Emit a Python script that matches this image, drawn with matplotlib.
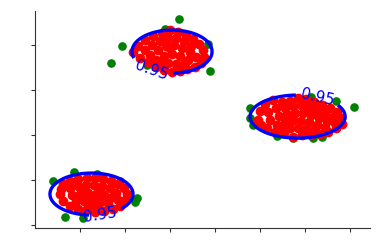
import numpy as np
import matplotlib
matplotlib.use("Agg")
import matplotlib.pyplot as plt

# red points (inliers), one list per cluster
red1_x = [-17, -10, -2, 7, 15, 23, 31, 38, 44, 47, 45, 40, 33, 24, 15, 6, -2, -10, -17, -20, -19,
          -10, -2, 6, 14, 22, 30, 36, -8, 0, 8, 16, 24, 32, 38, -4, 4, 12, 20, 28, 10, 18, 4, 20, 12]
red1_y = [41, 44, 46, 47, 47, 46, 44, 41, 37, 31, 25, 19, 16, 14, 13, 15, 16, 19, 24, 31, 36,
          37, 39, 40, 40, 39, 37, 32, 30, 31, 32, 31, 30, 28, 25, 24, 24, 23, 23, 22, 18, 18, 35, 35, 28]

red2_x = [53, 58, 65, 73, 82, 90, 98, 106, 113, 119, 123, 124, 121, 115, 107, 100, 92, 84, 76, 68, 60,
          65, 72, 80, 88, 96, 104, 111, 70, 78, 86, 94, 102, 110, 116, 76, 84, 92, 100, 108, 88, 96, 104, 80, 90]
red2_y = [173, 179, 185, 189, 192, 195, 193, 190, 186, 181, 175, 168, 162, 158, 156, 154, 153, 155, 158, 163, 167,
          175, 180, 184, 187, 187, 184, 179, 170, 175, 179, 180, 177, 173, 168, 165, 169, 171, 169, 165, 162, 161, 161, 161, 177]

red3_x = [178, 180, 185, 193, 202, 210, 218, 226, 234, 242, 250, 257, 261, 262, 256, 248, 240, 231, 222, 213, 204, 195, 187, 181,
          188, 196, 205, 213, 221, 229, 237, 245, 253, 190, 199, 207, 215, 223, 231, 239, 247, 255,
          197, 205, 213, 221, 229, 237, 245, 210, 218, 226, 234, 203]
red3_y = [105, 114, 121, 125, 123, 124, 127, 126, 123, 120, 117, 113, 107, 101, 97, 93, 91, 90, 90, 88, 92, 93, 97, 100,
          113, 117, 117, 119, 120, 118, 115, 112, 108, 105, 109, 111, 112, 112, 110, 107, 104, 102,
          100, 103, 105, 104, 103, 100, 98, 97, 97, 96, 95, 97]

# green points (outliers)
green_x = [-27, -6, 17, 40, 57, 55, -15, 3,
           99, 85, 42, 31, 67, 128, 130,
           170, 170, 173, 231, 256, 274, 197, 213, 233, 242]
green_y = [44, 53, 51, 44, 27, 23, 8, 7,
           206, 196, 179, 162, 160, 181, 154,
           117, 107, 100, 128, 124, 118, 89, 87, 87, 88]

# 0.95 ellipse of each cluster: centre and half axes
ell_cx = [11.5, 92, 217.5]
ell_cy = [31, 173.5, 108.5]
ell_a = [41.5, 40, 47.5]
ell_b = [21, 21.5, 21.5]
label_pos = [(20, 10), (72, 156), (238, 130)]

level = [0.95]

fig = plt.figure(figsize=(3.8, 2.52), dpi=100)
ax = fig.add_axes([0.092, 0.095, 0.882, 0.861])

ax.plot(green_x, green_y, 'o', color='green', markersize=5.2, zorder=1)
for rx, ry in [(red1_x, red1_y), (red2_x, red2_y), (red3_x, red3_y)]:
    ax.plot(rx, ry, 'o', color='red', markersize=6, zorder=2)

gx, gy = np.meshgrid(np.linspace(-45, 290, 700), np.linspace(-3, 214, 500))
chi = -2 * np.log(1 - level[0])
for cx, cy, a, b, pos in zip(ell_cx, ell_cy, ell_a, ell_b, label_pos):
    sx = a / np.sqrt(chi)
    sy = b / np.sqrt(chi)
    d2 = ((gx - cx) / sx) ** 2 + ((gy - cy) / sy) ** 2
    z = 1 - np.exp(-d2 / 2)
    cs = ax.contour(gx, gy, z, levels=level, colors='blue', linewidths=2.4, zorder=3)
    ax.clabel(cs, fmt='%.2f', fontsize=11, manual=[pos], inline=True)

ax.set_xlim(-45, 290)
ax.set_ylim(-3, 214)
ax.set_xticks([0, 45, 90, 135, 180, 225, 270])
ax.set_yticks([0, 45, 90, 135, 180])
ax.set_xticklabels([])
ax.set_yticklabels([])
ax.tick_params(length=3, width=0.8, color='#333333')
for s in ['top', 'right']:
    ax.spines[s].set_visible(False)
for s in ['left', 'bottom']:
    ax.spines[s].set_color('#333333')

plt.savefig('out.png', dpi=100)
